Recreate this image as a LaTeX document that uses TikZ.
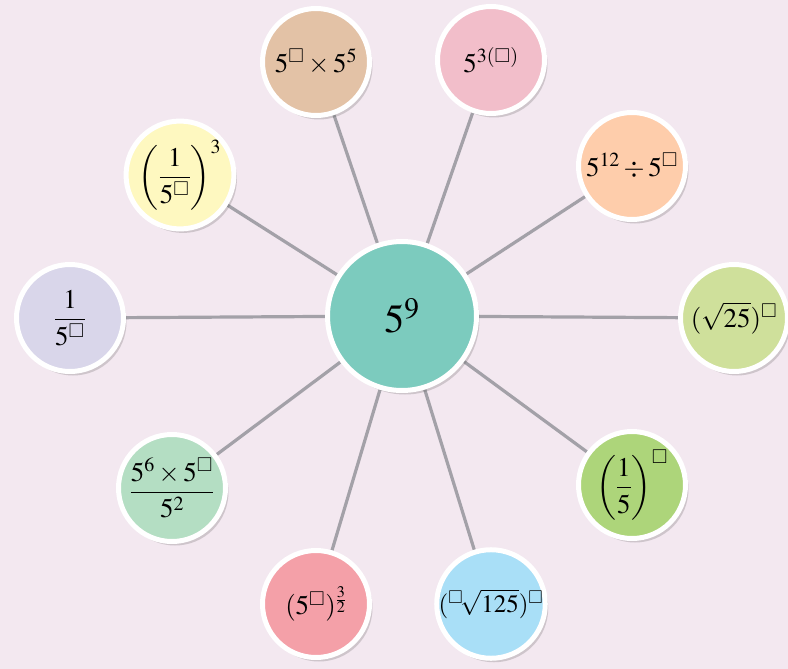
\documentclass[tikz,border=0pt]{standalone}
\usepackage{amsmath,amssymb}
\usepackage{mathptmx}
\usepackage{fix-cm}
\usepackage{fontspec}
\setmainfont{Liberation Serif}
\usetikzlibrary{shadows,backgrounds}
\definecolor{pagebg}{HTML}{F3E8F0}
\definecolor{spokegray}{HTML}{A3A1A8}
\definecolor{teal}{HTML}{7CCBBE}
\definecolor{tan}{HTML}{E3C2A6}
\definecolor{rosepink}{HTML}{F2BECA}
\definecolor{lemon}{HTML}{FEF8C0}
\definecolor{peach}{HTML}{FECDAB}
\definecolor{lavender}{HTML}{D9D6EA}
\definecolor{lime}{HTML}{CFE09B}
\definecolor{mint}{HTML}{B4DEC3}
\definecolor{leaf}{HTML}{ADD57A}
\definecolor{coral}{HTML}{F4A0A8}
\definecolor{sky}{HTML}{A9DFF7}

\begin{document}
\begin{tikzpicture}[
  x=1pt,y=-1pt,
  bubble/.style={circle,draw=white,line width=5pt,minimum size=107pt,inner sep=0pt,
                 align=center,font=\fontsize{27}{32}\selectfont,
                 drop shadow={shadow xshift=3pt,shadow yshift=-4pt,opacity=0.22,fill=black!70}},
  hub/.style={bubble,minimum size=149pt,font=\fontsize{40}{48}\selectfont},
  spoke/.style={draw=spokegray,line width=3.2pt}
]
\useasboundingbox (0,0) rectangle (788,669);

\node[hub,fill=teal] (c) at (402,316) {$5^{9}$};

\node[bubble,fill=tan]      (mul)  at (316,62)  {$5^{\square}\times 5^{5}$};
\node[bubble,fill=rosepink] (pow)  at (491,60)  {$5^{3(\square)}$};
\node[bubble,fill=lemon]    (inv)  at (180,175) {$\left(\dfrac{1}{5^{\square}}\right)^{3}$};
\node[bubble,fill=peach]    (dv)   at (632,166) {$5^{12}\div 5^{\square}$};
\node[bubble,fill=lavender] (frac) at (70,318)  {$\dfrac{1}{5^{\square}}$};
\node[bubble,fill=lime]     (rt)   at (734,318) {$(\sqrt{25})^{\square}$};
\node[bubble,fill=mint]     (quo)  at (172,488) {$\dfrac{5^{6}\times 5^{\square}}{5^{2}}$};
\node[bubble,fill=leaf]     (fif)  at (632,485) {$\left(\dfrac{1}{5}\right)^{\square}$};
\node[bubble,fill=coral]    (half) at (316,604) {$(5^{\square})^{\frac{3}{2}}$};
\node[bubble,fill=sky,font=\fontsize{25}{30}\selectfont]
                            (cub)  at (491,604) {$({}^{\square}\!\sqrt{125})^{\square}$};

\begin{scope}[on background layer]
  \fill[pagebg] (0,0) rectangle (788,669);
  \foreach \n in {mul,pow,inv,dv,frac,rt,quo,fif,half,cub}
    \draw[spoke] (c) -- (\n);
\end{scope}
\end{tikzpicture}
\end{document}
